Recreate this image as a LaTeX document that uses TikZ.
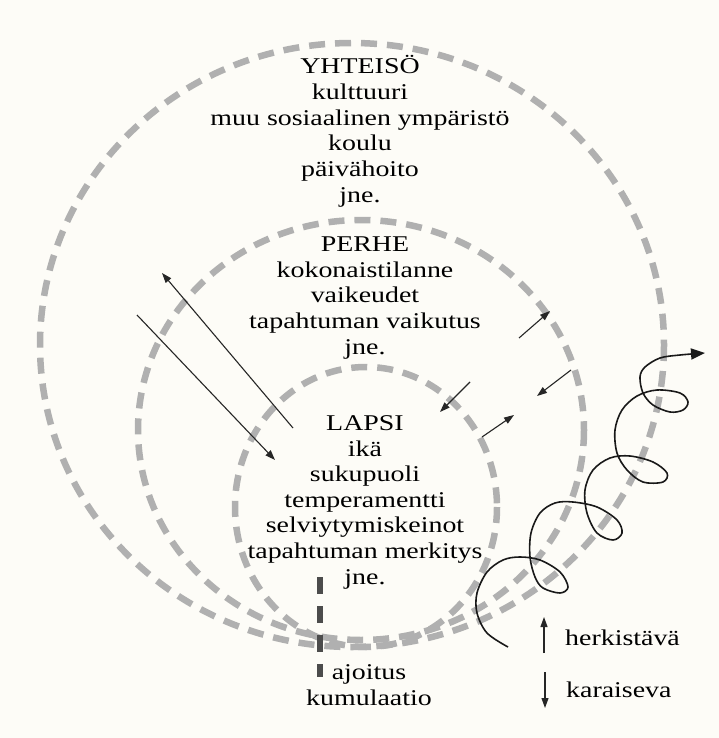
\documentclass[tikz,border=0pt]{standalone}
\usepackage{fontspec}
\setmainfont[FakeStretch=1.24]{Liberation Serif}
\usepackage{xcolor}
\usetikzlibrary{arrows.meta,positioning}
\definecolor{paper}{RGB}{253,252,247}
\definecolor{ringgray}{RGB}{176,176,176}

\begin{document}
\begin{tikzpicture}[
  x=1pt, y=-1pt,
  ringline/.style={draw=ringgray, line width=6.5pt, dash pattern=on 16pt off 10pt},
  txt/.style={align=center, anchor=base, inner sep=0pt,
              font=\fontsize{22.5}{25.6}\selectfont},
  arr/.style={-{Triangle[length=10pt,width=7pt]}, line width=1.1pt, black!85},
  helix/.style={-{Triangle[length=14pt,width=11pt]}, line width=1.6pt, black!90},
  timeline/.style={draw=black!70, line width=6pt, dash pattern=on 17pt off 12pt}
]
\fill[paper] (0,0) rectangle (719,738);
\useasboundingbox (0,0) rectangle (719,738);

\draw[ringline] (352,345) ellipse [x radius=312, y radius=302];
\draw[ringline] (361,430) ellipse [x radius=223, y radius=210];
\draw[ringline] (366,507) ellipse [x radius=131, y radius=140];

% anchor base = baseline of the last line
\node[txt] (yhteiso) at (360,202) {YHTEISÖ\\kulttuuri\\muu sosiaalinen ympäristö\\koulu\\päivähoito\\jne.};
\node[txt] (perhe) at (365,354) {PERHE\\kokonaistilanne\\vaikeudet\\tapahtuman vaikutus\\jne.};
\node[txt] (lapsi) at (365,584) {LAPSI\\ikä\\sukupuoli\\temperamentti\\selviytymiskeinot\\tapahtuman merkitys\\jne.};
\node[txt] (ajoitus) at (369,705) {ajoitus\\kumulaatio};
\node[txt, anchor=base west] (herk) at (565,645) {herkistävä};
\node[txt, anchor=base west] (karai) at (566,697) {karaiseva};

\coordinate (upA) at (293,428);
\coordinate (upB) at (162,273);
\coordinate (downA) at (137,315);
\coordinate (downB) at (275,460);
\coordinate (pOutA) at (519,338);
\coordinate (pOutB) at (550,311);
\coordinate (pInA) at (571,370);
\coordinate (pInB) at (537,396);
\coordinate (lInA) at (470,382);
\coordinate (lInB) at (440,412);
\coordinate (lOutA) at (482,437);
\coordinate (lOutB) at (514,415);
\coordinate (herkA) at (544,653);
\coordinate (herkB) at (544,617);
\coordinate (karaiA) at (545,672);
\coordinate (karaiB) at (545,708);
\coordinate (timeTop) at (320,577);
\coordinate (timeBot) at (320,677);

\draw[arr] (upA) -- (upB);
\draw[arr] (downA) -- (downB);
\draw[arr] (pOutA) -- (pOutB);
\draw[arr] (pInA) -- (pInB);
\draw[arr] (lInA) -- (lInB);
\draw[arr] (lOutA) -- (lOutB);
\draw[arr] (herkA) -- (herkB);
\draw[arr] (karaiA) -- (karaiB);
\draw[timeline] (timeTop) -- (timeBot);

\draw[helix] plot[smooth, tension=0.55] coordinates {
  (508,647) (487,633) (477,613) (477,593) (487,572) (503,560) (520,557)
  (540,560) (560,572) (568,587) (560,593) (543,588) (535,577) (530,557)
  (531,533) (540,513) (555,503) (573,502) (597,507) (617,520) (622,533)
  (613,540) (597,533) (587,513) (585,490) (593,470) (610,458) (630,456)
  (653,462) (667,473) (663,482) (643,482) (627,470) (617,453) (615,430)
  (622,410) (637,396) (657,390) (680,393) (688,402) (683,410) (670,412)
  (653,405) (643,393) (640,377) (645,367) (660,358) (680,355) (705,353)};
\end{tikzpicture}
\end{document}
